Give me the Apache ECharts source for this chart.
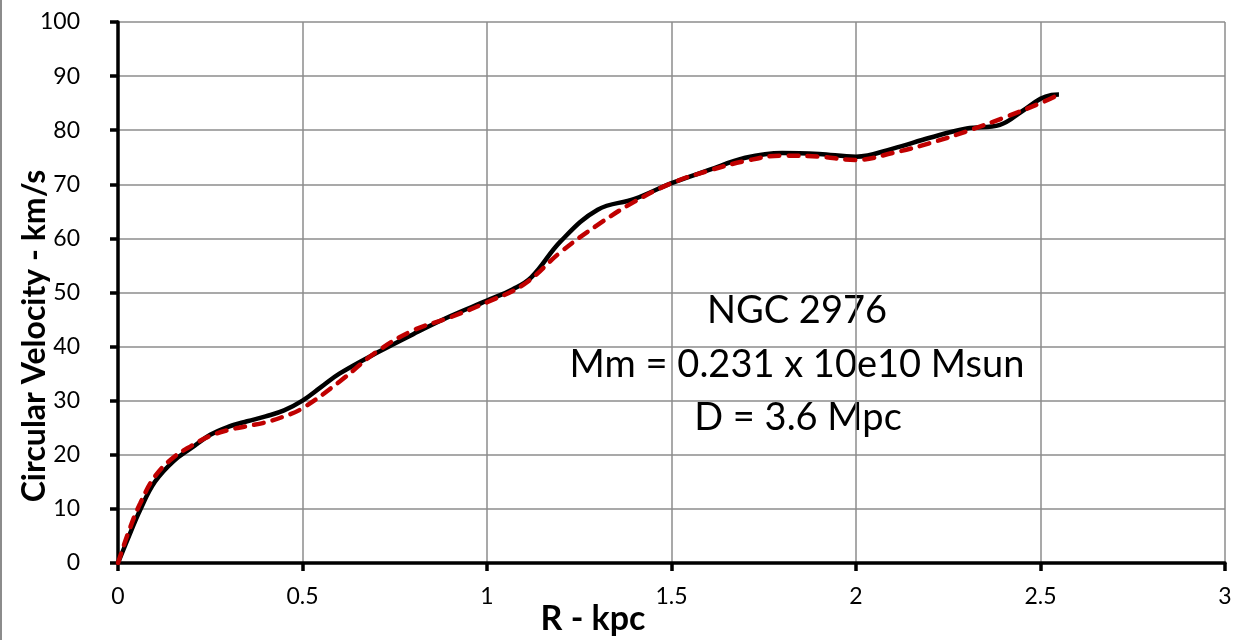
<!DOCTYPE html>
<html>
<head>
<meta charset="utf-8">
<script src="https://cdn.jsdelivr.net/npm/echarts@6/dist/echarts.min.js"></script>
<style>
    html, body { margin: 0; padding: 0; background: #fff; }
    #chart { width: 1238px; height: 640px; }
</style>
</head>
<body>
<div id="chart"></div>
<script>
    // observed rotation curve (black)
    const observed = [
        [0, 0], [0.03, 5], [0.06, 9.8], [0.1, 15], [0.15, 18.8], [0.2, 21.3], [0.25, 23.7],
        [0.3, 25.2], [0.35, 26.2], [0.4, 27.1], [0.45, 28.2], [0.5, 30], [0.55, 32.5],
        [0.6, 35], [0.7, 38.8], [0.8, 42.3], [0.9, 45.6], [1.0, 48.5], [1.07, 50.6],
        [1.12, 52.8], [1.2, 59.5], [1.3, 65.3], [1.4, 67.3], [1.5, 70.2], [1.6, 72.6],
        [1.7, 74.9], [1.8, 75.8], [1.9, 75.6], [2.0, 75.1], [2.1, 76.6], [2.2, 78.6],
        [2.3, 80.3], [2.39, 81], [2.45, 83.5], [2.5, 85.8], [2.53, 86.5], [2.55, 86.6]
    ]
    // model curve (red dashed)
    const model = [
        [0, 0], [0.03, 6], [0.06, 11], [0.1, 16], [0.15, 19.5], [0.2, 21.7], [0.25, 23.5],
        [0.3, 24.6], [0.35, 25.3], [0.4, 26], [0.45, 27.1], [0.5, 28.6], [0.6, 33.5],
        [0.7, 39], [0.8, 43], [0.9, 45.4], [1.0, 48.2], [1.1, 51.5], [1.2, 57.5],
        [1.3, 62.5], [1.4, 66.8], [1.5, 70.2], [1.6, 72.5], [1.7, 74.3], [1.8, 75.3],
        [1.9, 75.1], [2.0, 74.5], [2.1, 75.8], [2.2, 77.6], [2.3, 79.8], [2.4, 82.3],
        [2.5, 85], [2.55, 86.6]
    ]
    const xTitle = 'R - kpc'
    const yTitle = 'Circular Velocity - km/s'
    const notes = ['NGC 2976', 'Mm = 0.231 x 10e10 Msun', 'D = 3.6 Mpc']

    const font = 'Lato, "Open Sans", sans-serif'
    const myChart = echarts.init(document.getElementById('chart'))

    const option = {
        backgroundColor: '#fff',
        animation: false,
        grid: { left: 118, right: 13, top: 22, bottom: 77 },
        xAxis: {
            type: 'value',
            min: 0,
            max: 3,
            interval: 0.5,
            axisLine: { onZero: false, lineStyle: { color: '#000', width: 3.5 } },
            axisTick: { length: 8, lineStyle: { color: '#000', width: 3.5 } },
            splitLine: { show: true, lineStyle: { color: '#8c8c8c', width: 1.5 } },
            axisLabel: { color: '#000', fontSize: 23, fontFamily: font, margin: 22 }
        },
        yAxis: {
            type: 'value',
            min: 0,
            max: 100,
            interval: 10,
            axisLine: { show: true, lineStyle: { color: '#000', width: 3.5 } },
            axisTick: { show: true, length: 8, lineStyle: { color: '#000', width: 3.5 } },
            splitLine: { show: true, lineStyle: { color: '#8c8c8c', width: 1.5 } },
            axisLabel: { color: '#000', fontSize: 23, fontFamily: font, margin: 38 }
        },
        series: [
            {
                name: 'observed',
                type: 'line',
                data: observed,
                smooth: 0.4,
                symbol: 'none',
                lineStyle: { color: '#000', width: 4.5 },
                z: 3
            },
            {
                name: 'model',
                type: 'line',
                data: model,
                smooth: 0.4,
                symbol: 'none',
                lineStyle: { color: '#c00000', width: 4.5, type: [10, 9], cap: 'round' },
                z: 4
            }
        ],
        graphic: [
            // gray frame edge on the left
            { type: 'rect', left: 0, top: 0, shape: { width: 2, height: 640 }, style: { fill: '#8c8c8c' } },
            {
                type: 'text', x: 593, y: 619,
                style: { text: xTitle, fill: '#000', font: 'bold 34px ' + font, textAlign: 'center', textVerticalAlign: 'middle' }
            },
            {
                type: 'text', x: 35, y: 336, rotation: Math.PI / 2,
                style: { text: yTitle, fill: '#000', font: 'bold 32px ' + font, textAlign: 'center', textVerticalAlign: 'middle' }
            },
            {
                type: 'text', x: 797, y: 311,
                style: { text: notes[0], fill: '#000', font: '38px ' + font, textAlign: 'center', textVerticalAlign: 'middle' }
            },
            {
                type: 'text', x: 797, y: 365,
                style: { text: notes[1], fill: '#000', font: '38px ' + font, textAlign: 'center', textVerticalAlign: 'middle' }
            },
            {
                type: 'text', x: 798, y: 418,
                style: { text: notes[2], fill: '#000', font: '38px ' + font, textAlign: 'center', textVerticalAlign: 'middle' }
            }
        ]
    }
    myChart.setOption(option)
</script>
</body>
</html>
